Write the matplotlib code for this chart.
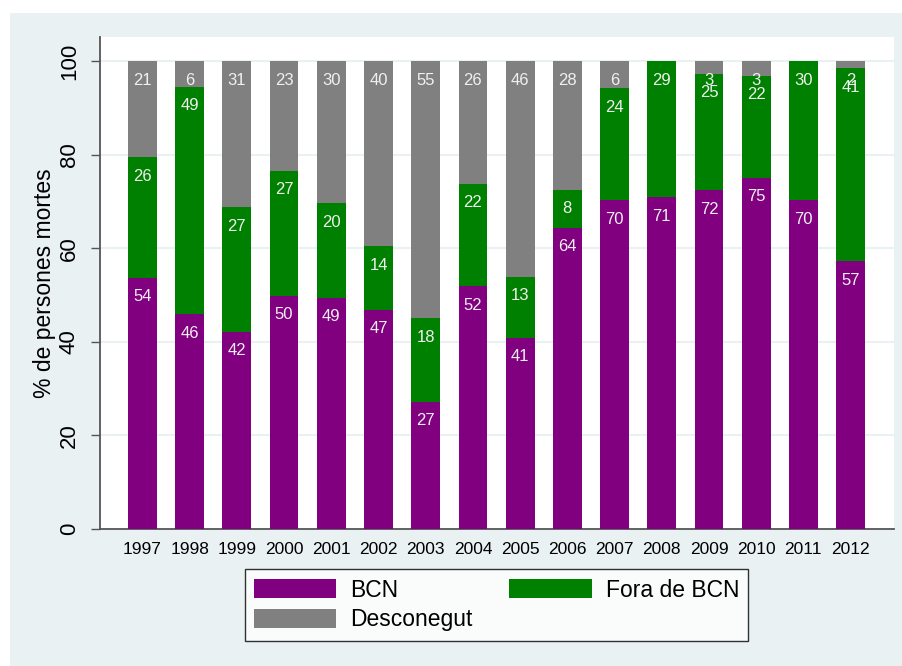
import matplotlib
matplotlib.use("Agg")
import matplotlib.pyplot as plt
from matplotlib.patches import Rectangle
import numpy as np

plt.rcParams['font.family'] = ['Liberation Sans', 'DejaVu Sans']

years = ['1997', '1998', '1999', '2000', '2001', '2002', '2003', '2004',
         '2005', '2006', '2007', '2008', '2009', '2010', '2011', '2012']
bcn = [53.7, 45.9, 42.2, 49.8, 49.4, 46.8, 27.2, 51.9,
       40.9, 64.4, 70.3, 70.9, 72.4, 75.1, 70.3, 57.2]
fora = [25.7, 48.6, 26.6, 26.8, 20.2, 13.6, 17.8, 21.9,
        13.0, 8.1, 23.9, 29.1, 24.9, 21.8, 29.7, 41.2]
desc = [20.6, 5.5, 31.2, 23.4, 30.4, 39.6, 55.0, 26.2,
        46.1, 27.5, 5.8, 0.0, 2.7, 3.1, 0.0, 1.6]
series_names = ['BCN', 'Fora de BCN', 'Desconegut']
colors = ['#800080', '#008000', '#808080']
yticks = [0, 20, 40, 60, 80, 100]

W, H = 903, 666
fig = plt.figure(figsize=(W / 100, H / 100), dpi=100, facecolor='white')
bgc = '#E9F1F2'
fig.patches.append(Rectangle((10 / W, 0), 1 - 10 / W, 1 - 13 / H,
                             transform=fig.transFigure, facecolor=bgc,
                             edgecolor='none', zorder=-10))

ax = fig.add_axes([100 / W, 1 - 529 / H, 794 / W, 492 / H])
ax.set_facecolor('white')

x = np.arange(len(years))
bw = 0.61
bottoms = np.zeros(len(years))
bars = []
for vals, col, name in zip([bcn, fora, desc], colors, series_names):
    vals = np.array(vals)
    b = ax.bar(x, vals, bw, bottom=bottoms, color=col, label=name,
               edgecolor='none', zorder=3)
    bars.append(b)
    tops = bottoms + vals
    for xi, v, t in zip(x, vals, tops):
        if v > 0:
            ax.annotate('%.0f' % v, xy=(xi, t), xytext=(0, -19),
                        textcoords='offset pixels', ha='center', va='center',
                        fontsize=12, color='#F0F0F0', zorder=5)
    bottoms = tops

ax.set_xlim(-0.90, 15.92)
ax.set_ylim(0, 105.13)
ax.set_xticks(x)
ax.set_xticklabels(years, fontsize=12.5)
ax.tick_params(axis='x', length=0, pad=9)
ax.set_yticks(yticks)
ax.set_yticklabels([str(v) for v in yticks], fontsize=16, rotation=90,
                   va='center')
ax.tick_params(axis='y', length=6.5, width=1, color='#555555', pad=8)
ax.grid(axis='y', color=bgc, linewidth=1.5, zorder=0)
ax.set_axisbelow(True)
for s in ['top', 'right']:
    ax.spines[s].set_visible(False)
for s in ['left', 'bottom']:
    ax.spines[s].set_color('#555555')
    ax.spines[s].set_linewidth(1.3)
ax.set_ylabel('% de persones mortes', fontsize=16.5, labelpad=2)

handles = [bars[0], bars[2], bars[1]]
labels = [series_names[0], series_names[2], series_names[1]]
leg = fig.legend(handles, labels, ncol=2, loc='center',
                 bbox_to_anchor=(496.5 / W, 1 - 605 / H), fontsize=16.5,
                 frameon=True, fancybox=False, edgecolor='black',
                 handlelength=3.6, handleheight=0.93, handletextpad=0.6,
                 columnspacing=1.6, labelspacing=0.3, borderpad=0.4)
leg.get_frame().set_linewidth(1.0)

fig.savefig('out.png', dpi=100, facecolor='white')
